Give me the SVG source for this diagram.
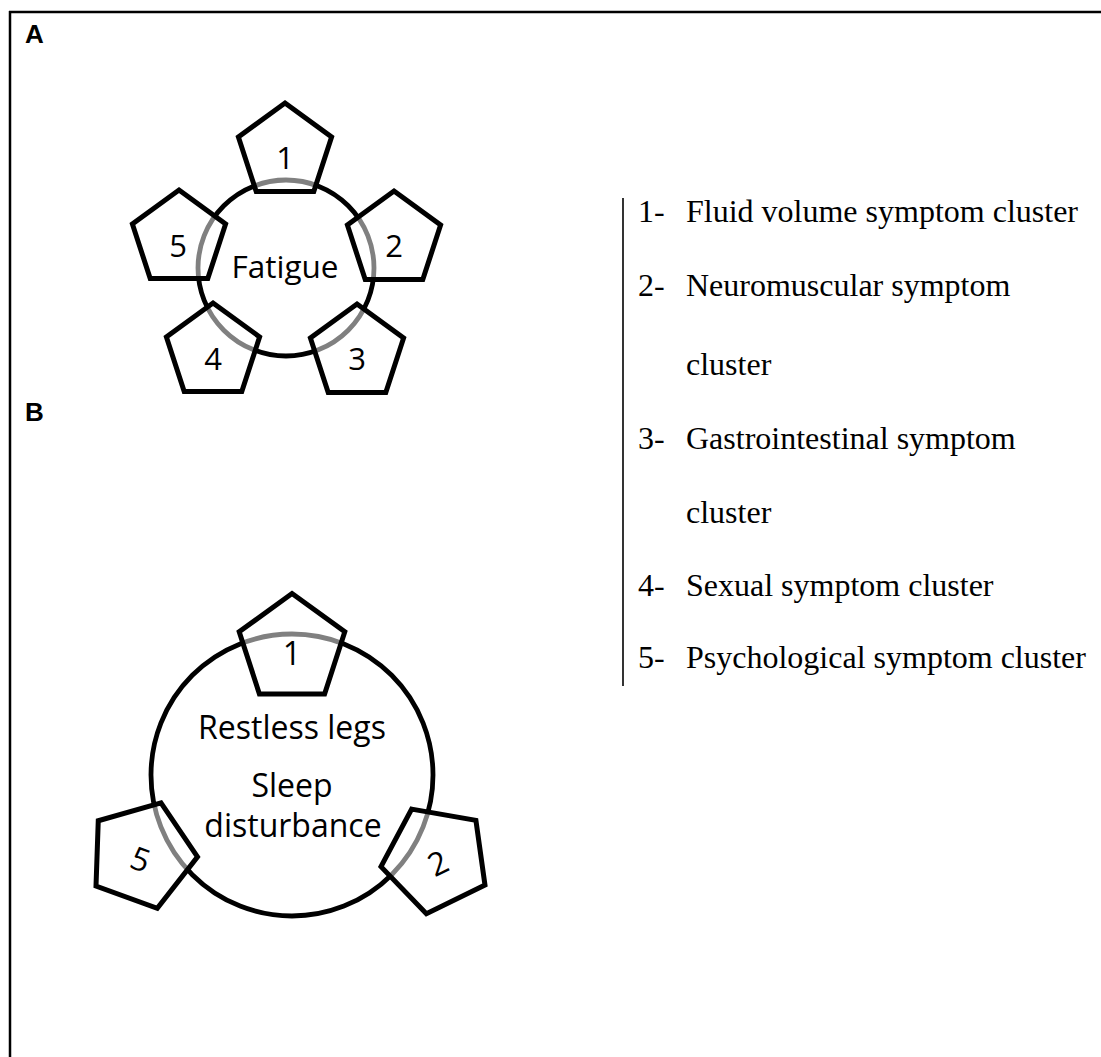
<svg xmlns="http://www.w3.org/2000/svg" xmlns:xlink="http://www.w3.org/1999/xlink" width="1101" height="1057" viewBox="0 0 1101 1057">
<style>
.frame{stroke:#000;stroke-width:2.5;fill:none}
.ring{fill:#fff;stroke:#000;stroke-width:4.8}
.pent{fill:#fff;fill-opacity:0.5;stroke:#000;stroke-width:5;stroke-linejoin:miter}
.lbl{font-family:"Open Sans","Noto Sans",sans-serif;fill:#000;text-anchor:middle}
.panel{font-family:"Liberation Sans",Arial,sans-serif;font-weight:bold;font-size:26px;fill:#000}
.leg{font-family:"Liberation Serif","Times New Roman",serif;font-size:32px;fill:#000}
</style>
<defs>
<polygon id="pentA" class="pent" points="0,-49 46.6,-15.1 28.8,39.6 -28.8,39.6 -46.6,-15.1"/>
<polygon id="pentB" class="pent" points="0,-55.5 52.8,-17.2 32.6,44.9 -32.6,44.9 -52.8,-17.2"/>
</defs>
<rect width="1101" height="1057" fill="#fff"/>
<g id="frame">
<line class="frame" x1="9" y1="12" x2="1101" y2="12"/>
<line class="frame" x1="10" y1="11" x2="10" y2="1057"/>
<line x1="623" y1="198" x2="623" y2="686" stroke="#000" stroke-width="1.6"/>
</g>
<text class="panel" x="25" y="43">A</text>
<text class="panel" x="25" y="421">B</text>
<g id="connectors"></g>
<g id="a-fatigue">
<circle class="ring" cx="286" cy="268" r="88"/>
</g>
<g id="a-p1"><use xlink:href="#pentA" x="285" y="152"/><text class="lbl" x="285" y="169" font-size="31">1</text></g>
<g id="a-p2"><use xlink:href="#pentA" x="394" y="240"/><text class="lbl" x="394" y="257" font-size="31">2</text></g>
<g id="a-p3"><use xlink:href="#pentA" x="357" y="353"/><text class="lbl" x="357" y="370" font-size="31">3</text></g>
<g id="a-p4"><use xlink:href="#pentA" x="213" y="352"/><text class="lbl" x="213" y="370" font-size="31">4</text></g>
<g id="a-p5"><use xlink:href="#pentA" x="179" y="239"/><text class="lbl" x="178" y="257" font-size="31">5</text></g>
<text class="lbl" x="285" y="278" font-size="31.5">Fatigue</text>
<g id="b-sleep">
<circle class="ring" cx="292" cy="775" r="141"/>
</g>
<g id="b-p1"><use xlink:href="#pentB" x="292" y="649"/><text class="lbl" x="292" y="665" font-size="32">1</text></g>
<g id="b-p5" transform="translate(142,855) rotate(20)"><use xlink:href="#pentB"/><text class="lbl" x="0" y="16" font-size="32">5</text></g>
<g id="b-p2" transform="translate(436,859) rotate(-26)"><use xlink:href="#pentB"/><text class="lbl" x="0" y="16" font-size="32">2</text></g>
<text class="lbl" x="292" y="739" font-size="32">Restless legs</text>
<text class="lbl" x="292" y="797" font-size="32">Sleep</text>
<text class="lbl" x="293" y="837" font-size="32">disturbance</text>
<g id="legend">
<text class="leg" x="638" y="222">1-</text><text class="leg" x="686" y="222">Fluid volume symptom cluster</text>
<text class="leg" x="638" y="296">2-</text><text class="leg" x="686" y="296">Neuromuscular symptom</text>
<text class="leg" x="686" y="375">cluster</text>
<text class="leg" x="638" y="449">3-</text><text class="leg" x="686" y="449">Gastrointestinal symptom</text>
<text class="leg" x="686" y="523">cluster</text>
<text class="leg" x="638" y="596">4-</text><text class="leg" x="686" y="596">Sexual symptom cluster</text>
<text class="leg" x="638" y="668">5-</text><text class="leg" x="686" y="668">Psychological symptom cluster</text>
</g>
</svg>
